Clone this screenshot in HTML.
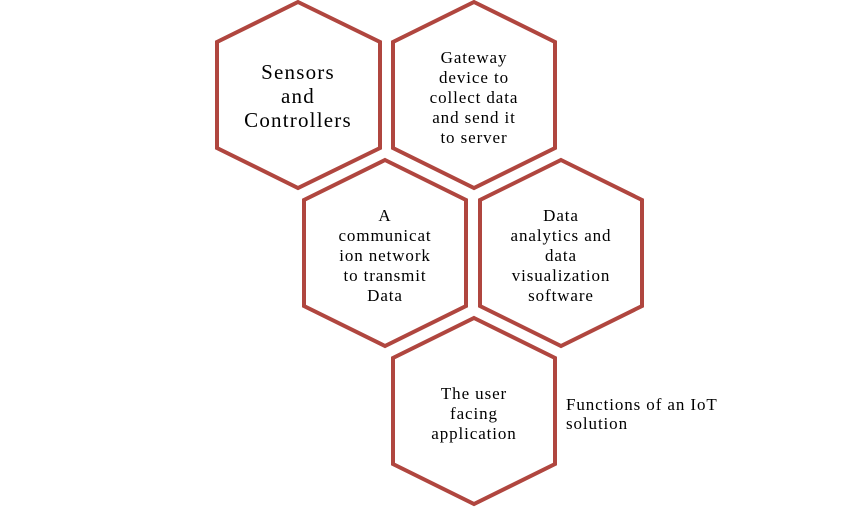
<!DOCTYPE html>
<html><head><style>
body{margin:0;width:865px;height:508px;background:#fff;overflow:hidden}
svg text{font-family:"Liberation Serif",serif;fill:#000}
</style></head><body>
<svg width="865" height="508" viewBox="0 0 865 508">
<g fill="none" stroke="#b0463f" stroke-width="4" stroke-linejoin="miter">
<polygon points="298,2 380,42 380,148 298,188 217,148 217,42"/>
<polygon points="474,2 555,42 555,148 474,188 393,148 393,42"/>
<polygon points="385,160 466,200 466,306 385,346 304,306 304,200"/>
<polygon points="561,160 642,200 642,306 561,346 480,306 480,200"/>
<polygon points="474,318 555,358 555,464 474,504 393,464 393,358"/>
</g>
<g text-anchor="middle" font-size="21" letter-spacing="1.2">
<text x="298" y="79">Sensors</text>
<text x="298" y="103">and</text>
<text x="298" y="127">Controllers</text>
</g>
<g text-anchor="middle" font-size="17" letter-spacing="0.9">
<text x="474" y="63">Gateway</text>
<text x="474" y="83">device to</text>
<text x="474" y="103">collect data</text>
<text x="474" y="123">and send it</text>
<text x="474" y="143">to server</text>
<text x="385" y="221">A</text>
<text x="385" y="241">communicat</text>
<text x="385" y="261">ion network</text>
<text x="385" y="281">to transmit</text>
<text x="385" y="301">Data</text>
<text x="561" y="221">Data</text>
<text x="561" y="241">analytics and</text>
<text x="561" y="261">data</text>
<text x="561" y="281">visualization</text>
<text x="561" y="301">software</text>
<text x="474" y="399">The user</text>
<text x="474" y="419">facing</text>
<text x="474" y="439">application</text>
</g>
<g font-size="17" letter-spacing="0.9">
<text x="566" y="410">Functions of an IoT</text>
<text x="566" y="429">solution</text>
</g>
</svg>
</body></html>
